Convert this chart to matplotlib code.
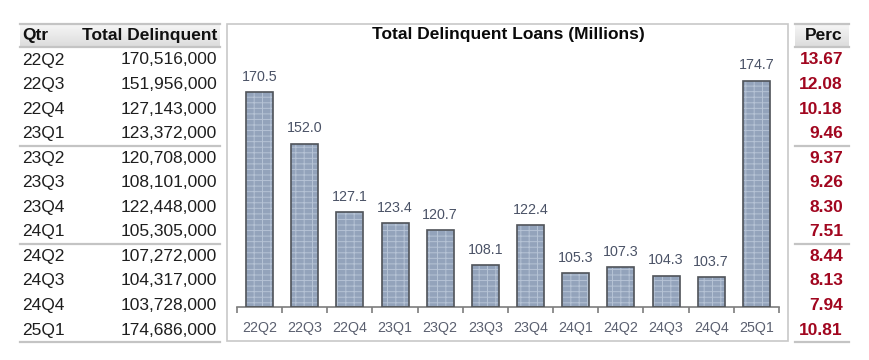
import numpy as np
import matplotlib
matplotlib.use('Agg')
import matplotlib.pyplot as plt
from matplotlib.lines import Line2D
from matplotlib.patches import Rectangle

# ── Data ───────────────────────────────────────────────────────────────────
quarters = ['22Q2', '22Q3', '22Q4', '23Q1', '23Q2', '23Q3',
            '23Q4', '24Q1', '24Q2', '24Q3', '24Q4', '25Q1']
total_delinquent = [170_516_000, 151_956_000, 127_143_000, 123_372_000,
                    120_708_000, 108_101_000, 122_448_000, 105_305_000,
                    107_272_000, 104_317_000, 103_728_000, 174_686_000]
perc = [13.67, 12.08, 10.18, 9.46, 9.37, 9.26,
        8.30, 7.51, 8.44, 8.13, 7.94, 10.81]

millions = [v / 1e6 for v in total_delinquent]

# ── Figure setup (pixel layout helpers) ────────────────────────────────────
W, H = 870, 360
plt.rcParams['font.family'] = ['Liberation Sans', 'DejaVu Sans']
plt.rcParams['hatch.linewidth'] = 0.7
fig = plt.figure(figsize=(W / 100, H / 100), dpi=100)


def rect(x0, y0, x1, y1):
    return [x0 / W, 1 - y1 / H, (x1 - x0) / W, (y1 - y0) / H]


# background axes in pixel coords for the side tables
bg = fig.add_axes([0, 0, 1, 1])
bg.set_xlim(0, W)
bg.set_ylim(H, 0)
bg.axis('off')

FS = 12.5
row_y0, row_step = 60, 24.55
sep_color = '#c4c4c4'

# header gradients
grad = np.linspace(0, 1, 50).reshape(-1, 1)
for x0, x1 in [(20, 220), (795, 849)]:
    bg.imshow(grad, extent=[x0, x1, 47, 24], aspect='auto',
              cmap=matplotlib.colors.LinearSegmentedColormap.from_list(
                  'hdr', ['#f6f6f6', '#dcdcdc']), zorder=1)
    for yy, lw in [(24, 1.6), (47, 1.6), (145.5, 1.6), (243.5, 1.6), (342, 1.6)]:
        bg.add_line(Line2D([x0, x1], [yy, yy], color=sep_color, lw=lw, zorder=2))

# left table
bg.text(22, 35.5, 'Qtr', fontsize=FS, fontweight='bold', va='center', ha='left', color='#111111')
bg.text(217, 35.5, 'Total Delinquent', fontsize=FS, fontweight='bold', va='center', ha='right', color='#111111')
for i, (q, v) in enumerate(zip(quarters, total_delinquent)):
    y = row_y0 + i * row_step
    bg.text(22, y, q, fontsize=FS, va='center', ha='left', color='#1e1e1e')
    bg.text(217, y, f'{v:,}', fontsize=FS, va='center', ha='right', color='#1e1e1e')

# right table
bg.text(843, 35.5, 'Perc', fontsize=FS, fontweight='bold', va='center', ha='right', color='#111111')
for i, p in enumerate(perc):
    y = row_y0 + i * row_step
    bg.text(843, y, f'{p:.2f}', fontsize=FS, fontweight='bold', va='center', ha='right', color='#a1061f')

# chart frame and title
bg.add_patch(Rectangle((227, 23.5), 561, 317, fill=False, edgecolor='#c8c8c8', lw=1.2, zorder=2))
bg.text(508, 34, 'Total Delinquent Loans (Millions)', fontsize=FS, fontweight='bold',
        va='center', ha='center', color='#0a0a0a')

# ── Bar chart ──────────────────────────────────────────────────────────────
k = 2.77        # px per million
ymin = 93
top_px, base_px = 50, 307
ax = fig.add_axes(rect(237, top_px, 779, base_px))
ax.set_xlim(-0.5, len(quarters) - 0.5)
ax.set_ylim(ymin, ymin + (base_px - top_px) / k)

x = np.arange(len(quarters))
heights = [m - ymin for m in millions]
ax.bar(x, heights, bottom=ymin, width=0.6, color='#93a3bb', edgecolor='#b6c3d5',
       linewidth=0, hatch='---||', zorder=2)
ax.bar(x, heights, bottom=ymin, width=0.6, fill=False, edgecolor='#4f5359',
       linewidth=1.2, zorder=3)

for xi, m in zip(x, millions):
    ax.annotate(f'{m:.1f}', (xi, m), xytext=(0, 6), textcoords='offset points',
                ha='center', va='bottom', fontsize=10.3, color='#4a5266')

for s in ['top', 'left', 'right']:
    ax.spines[s].set_visible(False)
ax.spines['bottom'].set_color('#7d7d7d')
ax.spines['bottom'].set_linewidth(1.2)
ax.set_yticks([])
ax.set_xticks(x)
ax.set_xticklabels(quarters, fontsize=10.3, color='#5b6070')
ax.set_xticks(np.arange(-0.5, len(quarters)), minor=True)
ax.tick_params(axis='x', which='major', length=0, pad=10)
ax.tick_params(axis='x', which='minor', length=4, width=1.2, color='#7d7d7d', direction='out')
ax.patch.set_alpha(0)

fig.savefig('out.png', dpi=100)
